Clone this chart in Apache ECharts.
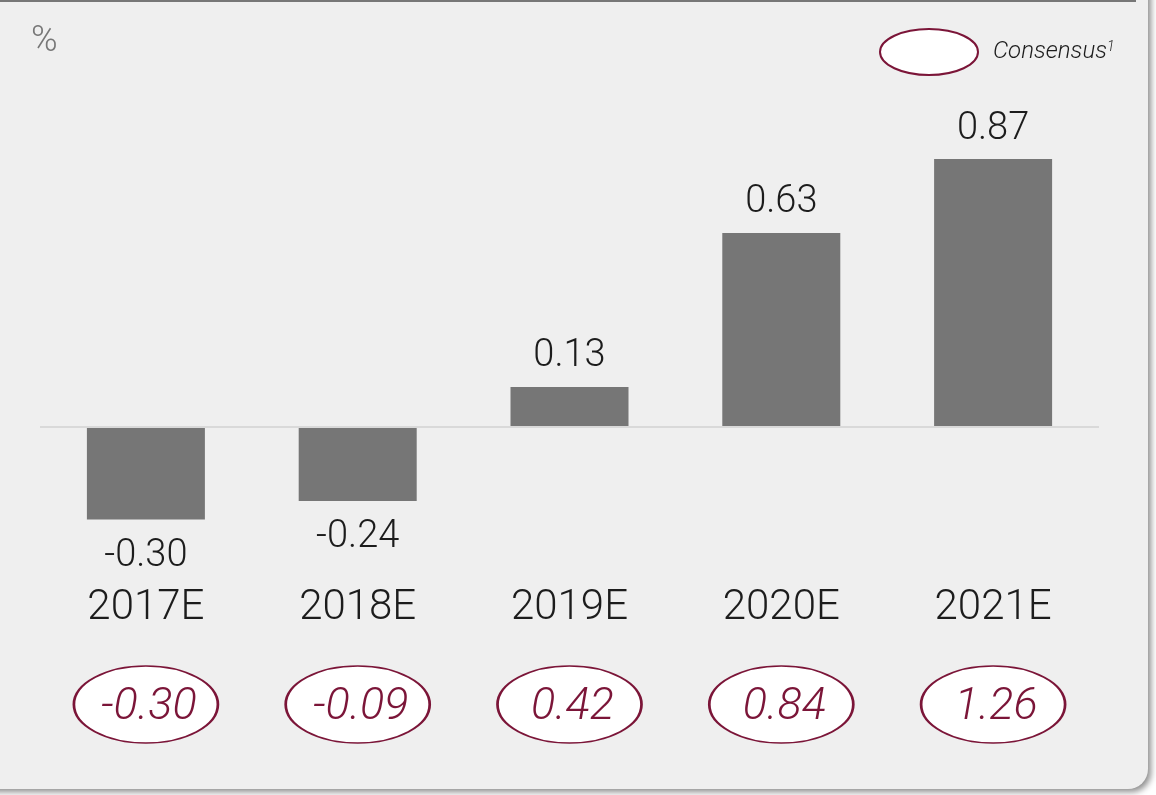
<!DOCTYPE html>
<html>
<head>
<meta charset="utf-8">
<script src="https://cdn.jsdelivr.net/npm/echarts@6/dist/echarts.min.js"></script>
<style>
html,body{margin:0;padding:0;background:#fff;}
#c{width:1156px;height:795px;}
</style>
</head>
<body>
<div id="c"></div>
<script>
const years = ['2017E', '2018E', '2019E', '2020E', '2021E'];
const values = [-0.30, -0.24, 0.13, 0.63, 0.87];
const consensus = [-0.30, -0.09, 0.42, 0.84, 1.26];
const unitLabel = '%';
const consensusName = 'Consensus';

const RED = '#7b1538';
const TXT = '#1c1c1c';
const FONT = 'Roboto';

const chart = echarts.init(document.getElementById('c'), null, {renderer: 'canvas'});

const barData = values.map(v => ({
  value: v,
  label: {position: v >= 0 ? 'top' : 'bottom', distance: v >= 0 ? 11 : 18}
}));

const ellipsePath = 'path://M0,23A49,23 0 1,0 98,23A49,23 0 1,0 0,23Z';

const option = {
  backgroundColor: '#ffffff',
  animation: false,
  title: {
    text: unitLabel, left: 26, top: 19,
    textStyle: {fontFamily: FONT, fontWeight: 300, fontSize: 36, color: '#777777'}
  },
  legend: {
    data: [{name: consensusName, icon: ellipsePath}],
    left: 874, top: 23,
    itemWidth: 98, itemHeight: 46,
    symbolKeepAspect: false,
    itemStyle: {color: '#ffffff', borderColor: RED, borderWidth: 2},
    formatter: n => '{a|' + n + '}{s|1}',
    textStyle: {
      rich: {
        a: {fontFamily: FONT, fontStyle: 'italic', fontWeight: 300, fontSize: 24, color: TXT, padding: [0, 0, 0, 10]},
        s: {fontFamily: FONT, fontStyle: 'italic', fontWeight: 300, fontSize: 14, color: TXT, verticalAlign: 'top', padding: [0, 0, 10, 0]}
      }
    }
  },
  graphic: [
    {
      type: 'rect', z: -10, silent: true,
      shape: {x: -30, y: -30, width: 1178, height: 819, r: [0, 0, 20, 20]},
      style: {fill: '#efefef', shadowBlur: 6, shadowColor: 'rgba(0,0,0,0.45)', shadowOffsetX: 3, shadowOffsetY: 3}
    },
    {
      type: 'line', z: -9, silent: true,
      shape: {x1: 0, y1: 1, x2: 1136, y2: 1},
      style: {stroke: '#777777', lineWidth: 2}
    }
  ],
  grid: [
    {left: 40, right: 57, top: 119, bottom: 214},
    {left: 40, right: 57, top: 665, height: 79}
  ],
  xAxis: [
    {
      type: 'category', gridIndex: 0, data: years,
      axisLine: {show: false, onZero: false}, axisTick: {show: false},
      axisLabel: {fontFamily: FONT, fontWeight: 300, fontSize: 42, color: TXT, margin: 6}
    },
    {
      type: 'category', gridIndex: 1, data: years, show: false
    }
  ],
  yAxis: [
    {type: 'value', gridIndex: 0, min: -0.5, max: 1.0, show: false, splitLine: {show: false}},
    {type: 'category', gridIndex: 1, data: [consensusName], show: false}
  ],
  series: [
    {
      type: 'bar', xAxisIndex: 0, yAxisIndex: 0,
      data: barData,
      barWidth: 118,
      itemStyle: {color: '#767676'},
      label: {
        show: true,
        fontFamily: FONT, fontWeight: 300, fontSize: 38, color: TXT,
        formatter: p => p.value.toFixed(2)
      },
      markLine: {
        silent: true, symbol: 'none',
        lineStyle: {color: '#d9d9d9', width: 2, type: 'solid'},
        label: {show: false},
        data: [{yAxis: 0}]
      }
    },
    {
      name: consensusName,
      type: 'scatter', xAxisIndex: 1, yAxisIndex: 1,
      symbol: 'circle', symbolSize: [144, 77], symbolKeepAspect: false,
      data: years.map((y, i) => [y, consensusName, consensus[i]]),
      encode: {x: 0, y: 1},
      itemStyle: {color: '#ffffff', borderColor: RED, borderWidth: 2, opacity: 1},
      label: {
        show: true, position: 'inside', offset: [3, 3],
        fontFamily: FONT, fontStyle: 'italic', fontWeight: 300, fontSize: 45, color: RED,
        formatter: p => p.value[2].toFixed(2)
      }
    }
  ]
};
chart.setOption(option);
</script>
</body>
</html>
